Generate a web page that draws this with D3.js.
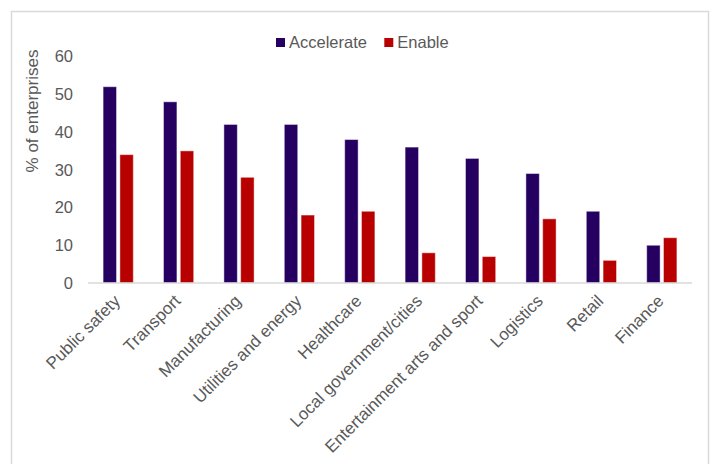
<!DOCTYPE html>
<html>
<head>
<meta charset="utf-8">
<script src="https://cdn.jsdelivr.net/npm/d3@7"></script>
<style>
  html, body { margin: 0; padding: 0; background: #fff; }
  svg { display: block; font-family: "Liberation Sans", Arial, sans-serif; }
</style>
</head>
<body>
<svg id="chart" width="713" height="464"></svg>
<script>
// Sectors surveyed
const categories = [
  "Public safety", "Transport", "Manufacturing", "Utilities and energy",
  "Healthcare", "Local government/cities", "Entertainment arts and sport",
  "Logistics", "Retail", "Finance"
];
// Share of enterprises (%) per sector
const accelerate = [52, 48, 42, 42, 38, 36, 33, 29, 19, 10];
const enable = [34, 35, 28, 18, 19, 8, 7, 17, 6, 12];
const seriesNames = ["Accelerate", "Enable"];
const yTicks = [0, 10, 20, 30, 40, 50, 60];

const colors = { Accelerate: "#250060", Enable: "#B80000" };
const textColor = "#595959";

const svg = d3.select("#chart");

// Outer frame
svg.append("rect")
  .attr("x", 11.5).attr("y", 11.5)
  .attr("width", 697).attr("height", 480)
  .attr("fill", "none")
  .attr("stroke", "#d9d9d9")
  .attr("stroke-width", 1.5);

const x = d3.scaleBand()
  .domain(categories)
  .range([88, 692])
  .paddingInner(0.5)
  .paddingOuter(0.25);

const xSub = d3.scaleBand()
  .domain(seriesNames)
  .range([0, x.bandwidth()])
  .paddingInner(0.2);

const y = d3.scaleLinear()
  .domain([0, 60])
  .range([283, 56.5]);

const rows = categories.map((c, i) => ({
  category: c,
  values: [
    { key: "Accelerate", value: accelerate[i] },
    { key: "Enable", value: enable[i] }
  ]
}));

// Bars
const groups = svg.append("g")
  .selectAll("g")
  .data(rows)
  .join("g")
  .attr("transform", d => `translate(${x(d.category)},0)`);

groups.selectAll("rect")
  .data(d => d.values)
  .join("rect")
  .attr("x", d => xSub(d.key))
  .attr("y", d => y(d.value))
  .attr("width", xSub.bandwidth())
  .attr("height", d => y(0) - y(d.value))
  .attr("fill", d => colors[d.key])
  .attr("stroke", "#ffffff")
  .attr("stroke-opacity", 0.45)
  .attr("stroke-width", 1);

// Baseline
svg.append("line")
  .attr("x1", 88).attr("x2", 692)
  .attr("y1", y(0)).attr("y2", y(0))
  .attr("stroke", "#d9d9d9")
  .attr("stroke-width", 1.5);

// Y axis (labels only)
const yAxis = d3.axisLeft(y).tickValues(yTicks).tickSize(0).tickPadding(0);
const gy = svg.append("g")
  .attr("transform", "translate(73,0)")
  .call(yAxis);
gy.select(".domain").remove();
gy.selectAll("text")
  .attr("fill", textColor)
  .style("font-size", "16.5px")
  .style("font-family", "'Liberation Sans', Arial, sans-serif");

// Y axis title
svg.append("text")
  .attr("transform", "translate(38,111) rotate(-90)")
  .attr("text-anchor", "middle")
  .attr("fill", textColor)
  .style("font-size", "17px")
  .text("% of enterprises");

// Category labels
const xAxis = d3.axisBottom(x).tickSize(0).tickPadding(0);
const gx = svg.append("g")
  .attr("transform", `translate(0,${y(0)})`)
  .call(xAxis);
gx.select(".domain").remove();
gx.selectAll("text")
  .attr("text-anchor", "end")
  .attr("fill", textColor)
  .attr("dy", null)
  .attr("y", null)
  .attr("transform", "translate(3,19) rotate(-45)")
  .style("font-size", "17px")
  .style("font-family", "'Liberation Sans', Arial, sans-serif");

// Legend
const legendX = [276, 384.3];
const legend = svg.append("g")
  .selectAll("g")
  .data(seriesNames)
  .join("g")
  .attr("transform", (d, i) => `translate(${legendX[i]},38)`);
legend.append("rect")
  .attr("width", 9).attr("height", 9)
  .attr("fill", d => colors[d]);
legend.append("text")
  .attr("x", 13).attr("y", 4.5)
  .attr("dy", "0.35em")
  .attr("fill", textColor)
  .style("font-size", "16.5px")
  .text(d => d);
</script>
</body>
</html>
